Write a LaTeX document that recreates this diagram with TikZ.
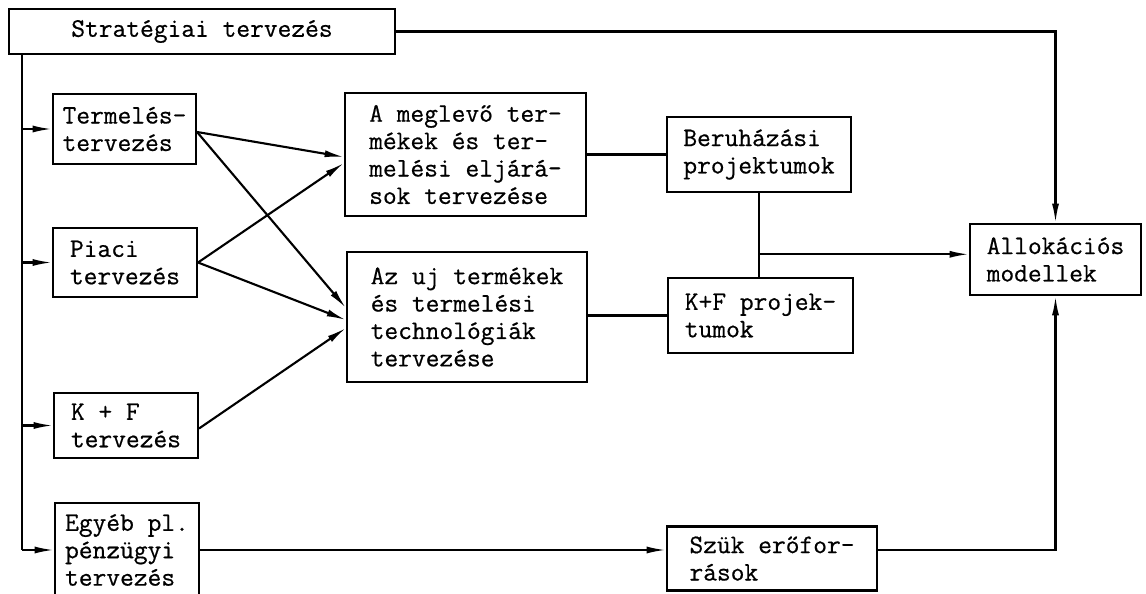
\documentclass[tikz,border=0pt]{standalone}
\usepackage{fontspec}
\usepackage{tikz}
\usetikzlibrary{arrows.meta,calc}
\newfontfamily\typer{Latin Modern Mono}[AutoFakeBold=0.6]

\begin{document}
\begin{tikzpicture}[x=0.02cm, y=-0.02cm,
    box/.style={draw, line width=1.2pt, align=left, inner sep=0pt,
        font=\typer\bfseries\fontsize{15.2}{15.6}\selectfont},
    ln/.style={line width=1.2pt},
    arr/.style={line width=1.2pt, -{Latex[length=11pt,width=4pt]}}]
    \useasboundingbox (0,0) rectangle (1146,594);

    \node[box, minimum width=7.72cm, minimum height=0.9cm] (strat) at (202,31.5) {Stratégiai tervezés};

    % planning areas on the left
    \node[box, minimum width=2.86cm, minimum height=1.4cm] (term) at (124.5,129) {Termelés-\\tervezés};
    \node[box, minimum width=2.88cm, minimum height=1.38cm] (piaci) at (125,262.5) {Piaci\\tervezés};
    \node[box, minimum width=2.88cm, minimum height=1.3cm] (kf) at (126,425.5) {K + F\\tervezés};
    \node[box, minimum width=2.88cm, minimum height=1.88cm] (egyeb) at (127,550) {Egyéb pl.\\pénzügyi\\tervezés};

    \node[box, minimum width=4.82cm, minimum height=2.46cm] (meglevo) at (465.5,154.5) {A meglevő ter-\\mékek és ter-\\melési eljárá-\\sok tervezése};
    \node[box, minimum width=4.8cm, minimum height=2.6cm] (uj) at (467,317) {Az uj termékek\\és termelési\\technológiák\\tervezése};

    \node[box, minimum width=3.68cm, minimum height=1.5cm] (beru) at (759,154.5) {Beruházási\\projektumok};
    \node[box, minimum width=3.7cm, minimum height=1.5cm] (kfp) at (760.5,315.5) {K+F projek-\\tumok};
    \node[box, minimum width=4.2cm, minimum height=1.28cm] (szuk) at (772,558.5) {Szük erőfor-\\rások};

    \node[box, minimum width=3.42cm, minimum height=1.42cm] (alloc) at (1055.5,259.5) {Allokációs\\modellek};

    % trunk from the strategy box
    \coordinate (trunk) at ($(strat.south west)+(14,0)$);
    \draw[ln] (trunk) -- (trunk |- egyeb.west);
    \foreach \n in {term,piaci,kf,egyeb}
        \draw[arr] (trunk |- \n.west) -- (\n.west);

    \draw[arr] ($(term.east)+(0,3)$) -- ($(meglevo.west)+(0,2.5)$);
    \draw[arr] ($(term.east)+(0,3)$) -- ($(uj.west)+(0,-9)$);
    \draw[arr] (piaci.east) -- ($(meglevo.west)+(0,8.5)$);
    \draw[arr] (piaci.east) -- ($(uj.west)+(0,3)$);
    \draw[arr] ($(kf.east)+(0,3)$) -- ($(uj.west)+(0,11)$);

    \draw[ln] (meglevo.east) -- (beru.west);
    \draw[ln] (kfp.west -| uj.east) -- (kfp.west);
    \draw[ln] (beru.south) -- (beru.south |- kfp.north);
    \coordinate (junc) at ($(beru.south)!0.73!(beru.south |- kfp.north)$);
    \draw[arr] (junc) -- (junc -| alloc.west);

    \draw[arr] (strat.east) -| (alloc.north);
    \draw[arr] (egyeb.east) -- (egyeb.east -| szuk.west);
    \draw[arr] (szuk.east |- egyeb.east) -| (alloc.south);
\end{tikzpicture}
\end{document}
